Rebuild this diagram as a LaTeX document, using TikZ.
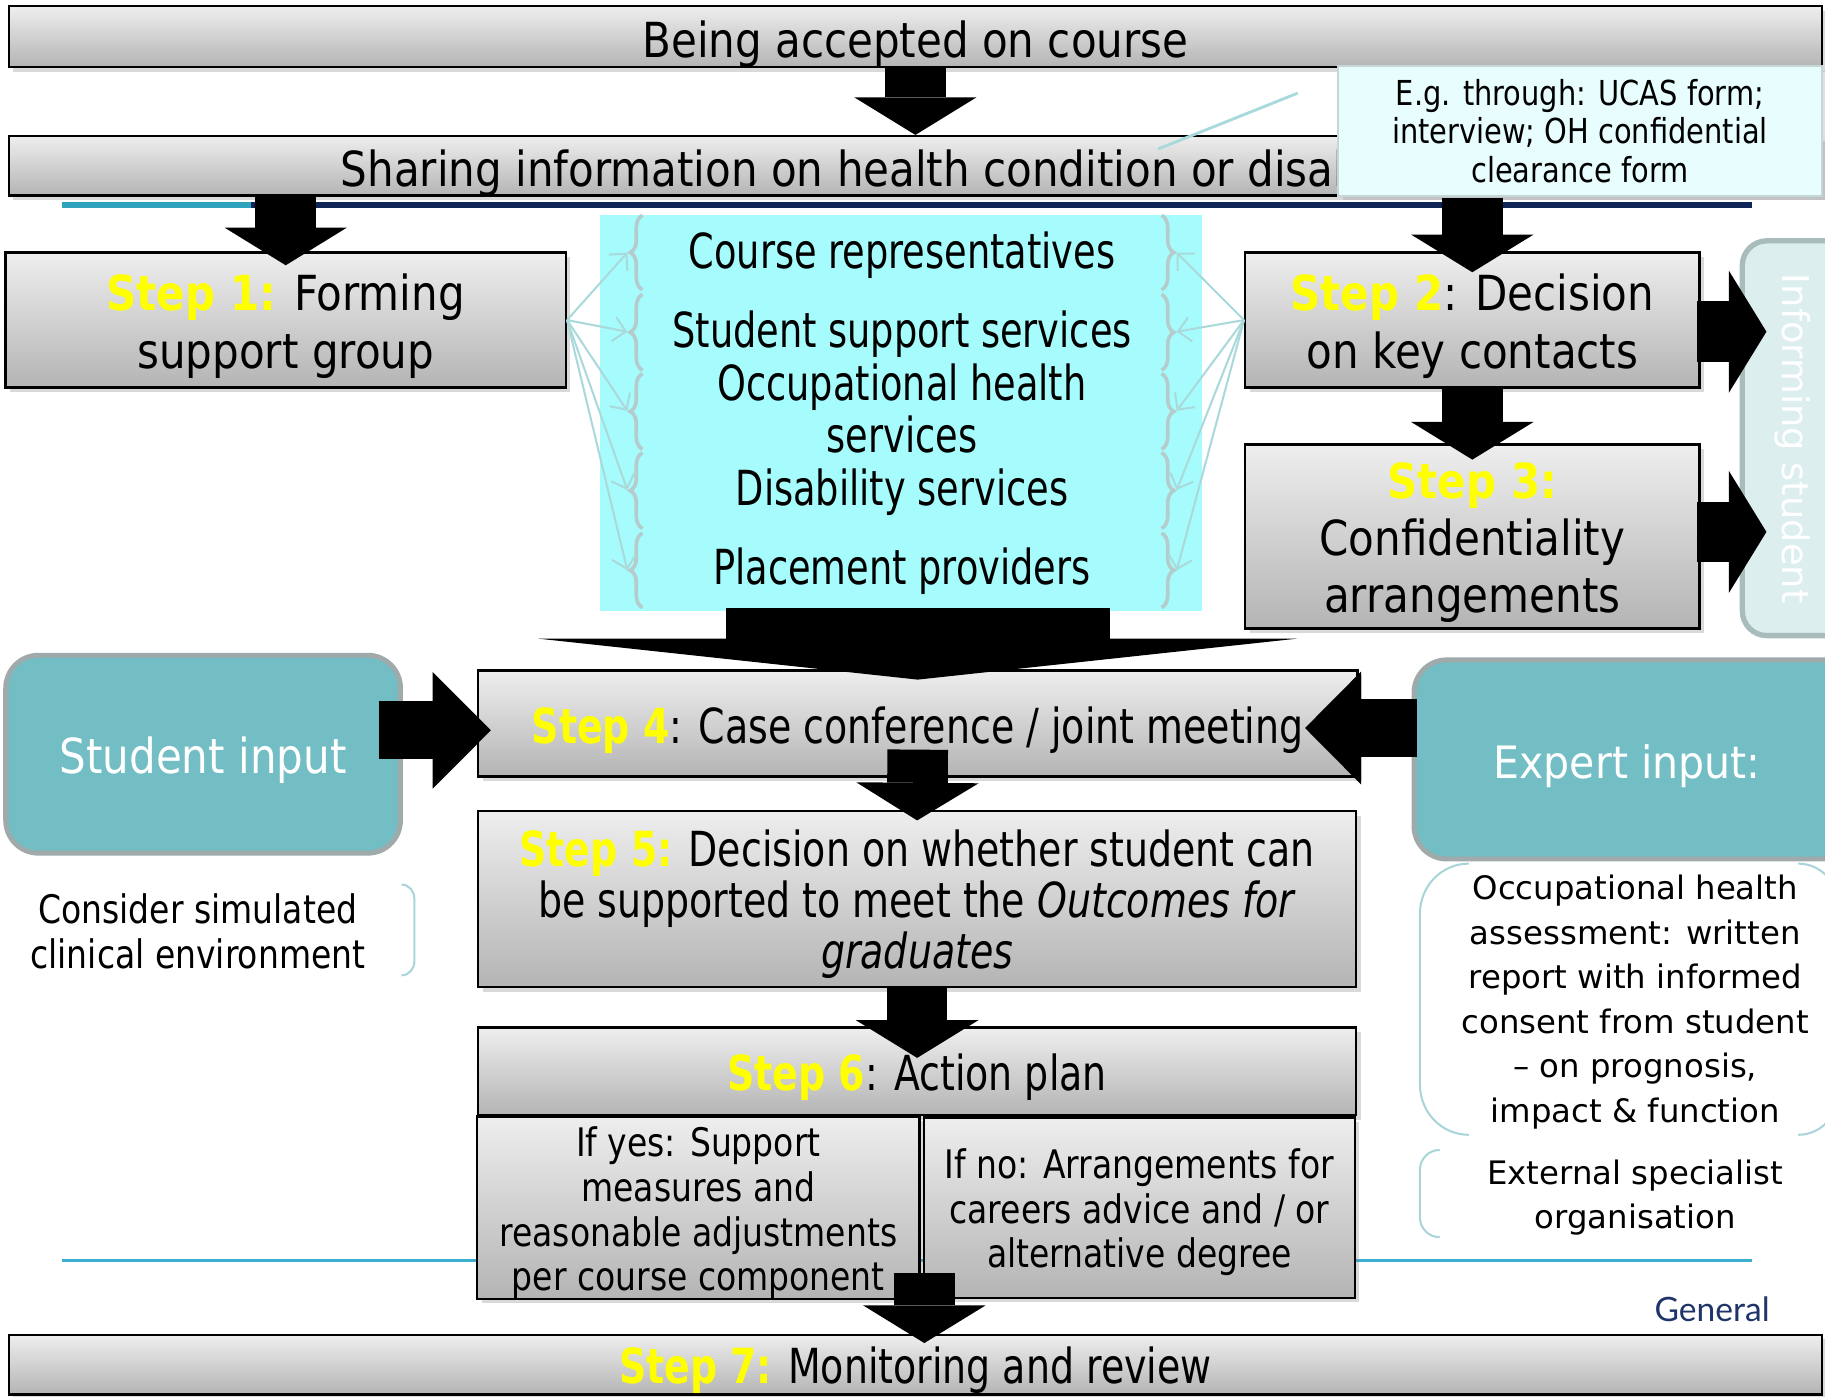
\documentclass[tikz,border=0pt]{standalone}
\usepackage{fontspec}
\usetikzlibrary{arrows.meta,calc,shadows,decorations.pathreplacing}
\newfontfamily\fntA[FakeStretch=0.87]{DejaVu Sans}
\newfontfamily\fntB[FakeStretch=0.785]{DejaVu Sans}
\newfontfamily\fntC[FakeStretch=0.76]{DejaVu Sans}
\newfontfamily\fntD[FakeStretch=0.84]{DejaVu Sans}
\newfontfamily\fntE[FakeStretch=0.92]{DejaVu Sans}
\newfontfamily\fntV{DejaVu Sans}
\newfontfamily\fntG{Lato}
\newcommand\tdrop[1]{\rule{0pt}{#1}}
\definecolor{gtop}{HTML}{EEEEEE}
\definecolor{gbot}{HTML}{B4B4B4}
\definecolor{cyanbox}{HTML}{A6FCFC}
\definecolor{callfill}{HTML}{E8FDFD}
\definecolor{callborder}{HTML}{C4D6D6}
\definecolor{bracec}{HTML}{B4CCCC}
\definecolor{fanc}{HTML}{A9D9DB}
\definecolor{tealf}{HTML}{72BEC4}
\definecolor{tealb}{HTML}{A0AAAB}
\definecolor{inff}{HTML}{DCEEEE}
\definecolor{infb}{HTML}{A9BCBC}
\definecolor{navyc}{HTML}{0F2557}
\definecolor{decoteal}{HTML}{2FA3BE}
\definecolor{bottomline}{HTML}{3BAFCF}
\definecolor{stepy}{HTML}{FFFF00}
\definecolor{brk}{HTML}{A9D5DA}
\definecolor{gmcnavy}{HTML}{1F3469}
\begin{document}
\begin{tikzpicture}[x=0.01cm,y=-0.01cm,
  gbox/.style={draw=black, line width=0.6pt, top color=gtop, bottom color=gbot,
    drop shadow={shadow xshift=1.1pt,shadow yshift=-1.1pt,opacity=0.3},
    inner sep=0pt, align=center},
  txtdrop/.style={execute at begin node={\rule{0pt}{#1}}},
  fontA/.style={font=\fntA\fontsize{11.8}{14.2}\selectfont},
  fontB/.style={font=\fntB\fontsize{11.8}{12.4}\selectfont},
  fontC/.style={font=\fntC\fontsize{11.8}{12.5}\selectfont},
  fontD/.style={font=\fntD\fontsize{9.6}{10.9}\selectfont},
  tealbox/.style={draw=tealb, fill=tealf, line width=1.2pt, rounded corners=8pt, inner sep=0pt},
  fan/.style={draw=fanc, line width=0.5pt, -{Straight Barb[length=3pt,width=6pt]}},
  bracestyle/.style={draw=bracec, line width=0.9pt, decorate, decoration={brace, amplitude=3pt}},
  brkline/.style={draw=brk, line width=0.5pt},
  blkV/.style={line width=14.8pt, -{Triangle[width=29.9pt,length=9.2pt,line width=0pt]}},
  blkS/.style={line width=14.2pt, -{Triangle[width=28.5pt,length=14.2pt,line width=0pt]}},
  blkE/.style={line width=14.2pt, -{Triangle[width=27.6pt,length=13.7pt,line width=0pt]}},
  blkF/.style={line width=93.9pt, -{Triangle[width=185.2pt,length=10pt,line width=0pt]}}
]
\useasboundingbox (0,0) rectangle (1568,1200);
\clip (0,0) rectangle (1568,1200);

% slide decoration
\draw[decoteal, line width=1.4pt] (53,176) -- (216,176);
\draw[navyc, line width=1.4pt] (216,176) -- (1505,176);
\draw[bottomline, line width=0.6pt] (53,1083) -- (1505,1083);
\node[text=gmcnavy, font=\fntG\fontsize{8.2}{9}\selectfont] (gmc) at (1471,1125) {General};

% top rows
\node[gbox, fontA, txtdrop=12.4pt, minimum width=15.57cm, minimum height=0.51cm] (top) at (786.5,31.5) {Being accepted on course};
\node[gbox, minimum width=15.57cm, minimum height=0.51cm] (share) at (786.5,142.5) {};
\node[fontA, anchor=west, inner sep=0pt] (sharetxt) at (292,149) {Sharing information on health condition or disability};
\draw[blkV] (top.south) -- (share.north);

\coordinate (cl1) at (995,128);
\coordinate (cl2) at (1115,80);
\draw[draw=fanc, line width=0.7pt] (cl1) -- (cl2);
\node[draw=callborder, line width=0.5pt, fill=callfill,
  drop shadow={shadow xshift=1.1pt,shadow yshift=-1.1pt,opacity=0.25},
  minimum width=4.15cm, minimum height=1.11cm, inner sep=0pt, align=center,
  font=\fntD\fontsize{8.4}{9.4}\selectfont] (call) at (1357.5,112.5)
  {E.g. through: UCAS form;\\interview; OH confidential\\clearance form};

% step 1
\node[gbox, fontA, minimum width=4.81cm, minimum height=1.16cm] (s1) at (245.5,275)
  {\tdrop{11.8pt}\textcolor{stepy}{\bfseries Step 1:} Forming\\support group};

% cyan box
\node[fill=cyanbox, minimum width=5.17cm, minimum height=3.40cm, inner sep=0pt] (cy) at (774.5,355) {};
\foreach \a/\b in {185/249,253/318,321/386,389/454,458/522} {
  \draw[bracestyle] (552,\b) -- (552,\a);
  \draw[bracestyle] (998,\a) -- (998,\b);
}
\node[fontC] (i1) at (775,219) {Course representatives};
\node[fontC] (i2) at (775,287) {Student support services};
\node[fontC, align=center] (i3) at (775,351) {Occupational health\\services};
\node[fontC] (i4) at (775,423) {Disability services};
\node[fontC] (i5) at (775,491) {Placement providers};

% steps 2 and 3
\node[gbox, fontA, minimum width=3.90cm, minimum height=1.16cm] (s2) at (1265,275)
  {\tdrop{11.8pt}\textcolor{stepy}{\bfseries Step 2}: Decision\\on key contacts};
\node[gbox, font=\fntA\fontsize{11.8}{13.9}\selectfont, minimum width=3.90cm, minimum height=1.58cm] (s3) at (1265,461)
  {\tdrop{11.8pt}\textcolor{stepy}{\bfseries Step 3:}\\Confidentiality\\arrangements};

\foreach \m in {217,285,353,421,490} {
  \draw[fan] (s1.east) -- (539,\m);
  \draw[fan] (s2.west) -- (1011,\m);
}

\draw[blkV] (s1.north |- share.south) -- ($(s1.north)+(0,12)$);
\draw[blkV] ($(s2.north |- call.south)+(0,1)$) -- ($(s2.north)+(0,18)$);
\draw[blkV] ($(s2.south)+(0,-1)$) -- ($(s3.north)+(0,14)$);

% informing student
\node[draw=infb, fill=inff, line width=1.3pt, rounded corners=6pt, minimum width=1.03cm, minimum height=3.39cm] (inf) at (1548.5,376.5) {};
\node[rotate=-90, text=white, font=\fntV\fontsize{9}{10}\selectfont] (inftxt) at (1540,377) {Informing student};
\draw[blkV] ($(s2.east)+(-3,10)$) -- ($(inf.west |- s2.east)+(23,10)$);
\draw[blkV] ($(s3.east)+(-3,-4)$) -- ($(inf.west |- s3.east)+(23,-4)$);

% step 4 row
\node[gbox, fontB, txtdrop=12.4pt, minimum width=7.55cm, minimum height=0.91cm] (s4) at (788.5,621.5)
  {\textcolor{stepy}{\bfseries Step 4}: Case conference / joint meeting};
\node[tealbox, minimum width=3.39cm, minimum height=1.70cm, text=white, fontA, txtdrop=11.8pt] (stu) at (174.5,648) {Student input};
\node[tealbox, minimum width=3.85cm, minimum height=1.71cm] (exp) at (1407.5,652.5) {};
\node[text=white, font=\fntE\fontsize{10.9}{12}\selectfont] (exptxt) at (1398,658) {Expert input:};
\draw[blkF] ($(cy.south -| s4.north)+(0,-3)$) -- ($(s4.north)+(0,9)$);
\draw[blkS] ($(stu.east |- s4.west)+(-21,6)$) -- ($(s4.west)+(12,6)$);
\draw[blkE] ($(exp.west |- s4.east)+(5,4)$) -- ($(s4.east)+(-46,4)$);

% left note
\node[fontD, align=center] (sim) at (170,800) {Consider simulated\\clinical environment};
\draw[brkline] (345,760) to[out=0,in=90] (356,772) -- (356,826) to[out=-90,in=0] (345,838);

% right notes
\node[font=\fntV\fontsize{7.9}{10.9}\selectfont, align=center] (ohn) at (1405,861)
  {Occupational health\\assessment: written\\report with informed\\consent from student\\– on prognosis,\\impact \& function};
\draw[brkline] (1262,742) to[out=180,in=90] (1220,785) -- (1220,932) to[out=-90,in=180] (1262,975);
\draw[brkline] (1545,742) to[out=0,in=90] (1582,785) -- (1582,932) to[out=-90,in=0] (1545,975);
\node[font=\fntV\fontsize{7.9}{10.8}\selectfont, align=center] (ext) at (1405,1029)
  {External specialist\\organisation};
\draw[brkline] (1237,988) to[out=180,in=90] (1220,1005) -- (1220,1046) to[out=-90,in=180] (1237,1063);

% step 5, 6
\node[gbox, fontB, minimum width=7.54cm, minimum height=1.51cm] (s5) at (788,772.5)
  {\tdrop{11.5pt}\textcolor{stepy}{\bfseries Step 5:} Decision on whether student can\\be supported to meet the \textit{Outcomes for}\\\textit{graduates}};
\draw[blkV] ($(s4.south)+(0,-24)$) -- ($(s5.north)+(0,9)$);
\node[gbox, fontB, txtdrop=11.8pt, minimum width=7.54cm, minimum height=0.75cm] (s6) at (788,920.5)
  {\textcolor{stepy}{\bfseries Step 6}: Action plan};
\node[gbox, fontD, minimum width=3.80cm, minimum height=1.55cm] (yes) at (600,1037.5)
  {\tdrop{9.9pt}If yes: Support\\measures and\\reasonable adjustments\\per course component};
\node[gbox, fontD, minimum width=3.70cm, minimum height=1.55cm] (no) at (979,1037.5)
  {\tdrop{9.6pt}If no: Arrangements for\\careers advice and / or\\alternative degree};
\draw[blkV] (s5.south) -- ($(s6.north)+(0,27)$);

% step 7
\node[gbox, fontB, txtdrop=11.8pt, minimum width=15.57cm, minimum height=0.51cm] (s7) at (786.5,1172.5)
  {\textcolor{stepy}{\bfseries Step 7:} Monitoring and review};
\draw[blkV] ($(yes.south east)+(3,-23)$) -- ($(yes.south east |- s7.north)+(3,8)$);
\end{tikzpicture}
\end{document}
